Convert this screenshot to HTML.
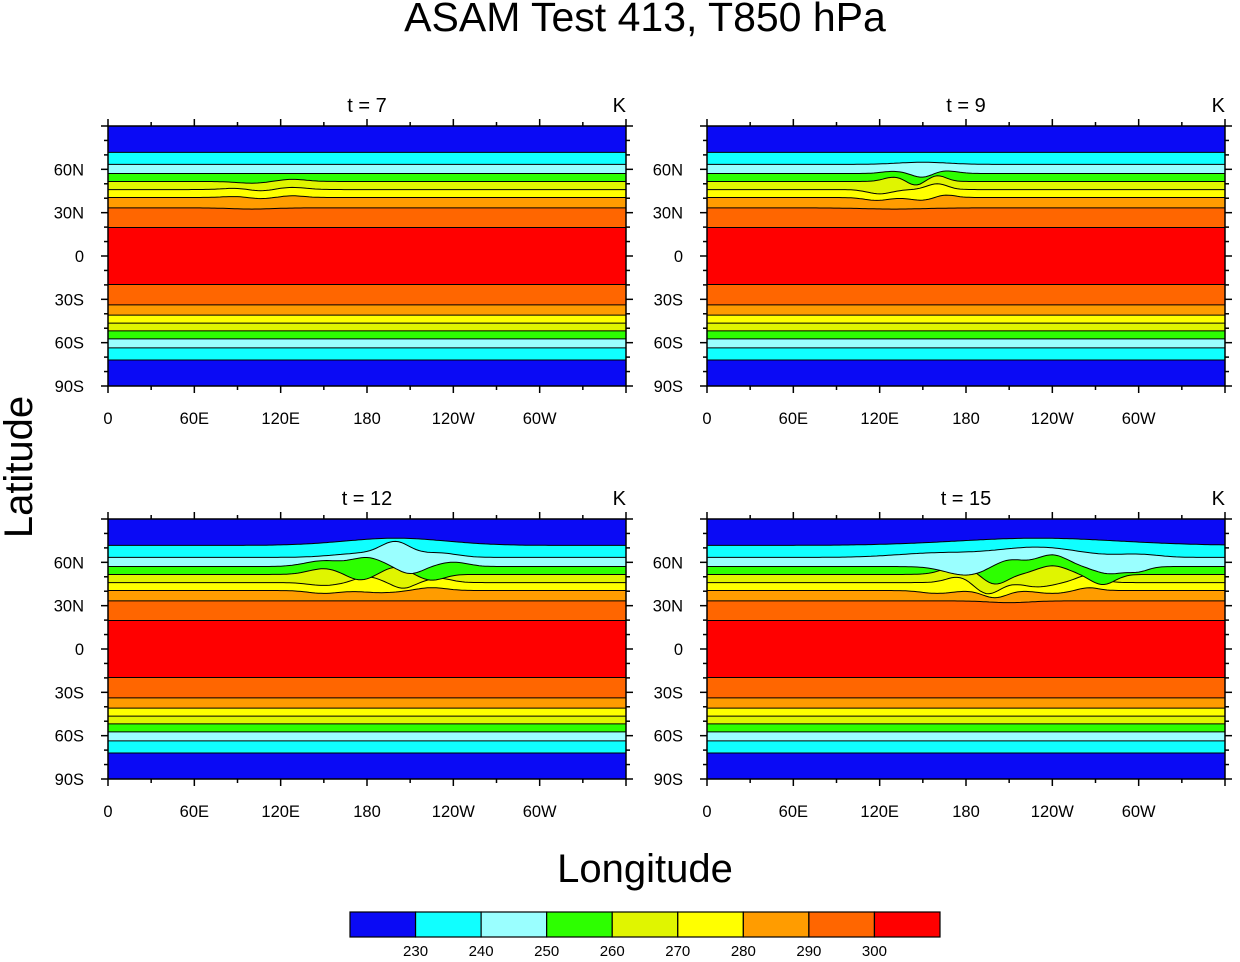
<!DOCTYPE html>
<html><head><meta charset="utf-8"><style>
body{margin:0;background:#fff;}
svg text{font-family:"Liberation Sans",sans-serif;}
</style></head><body>
<svg id="chart" width="1240" height="957" xmlns="http://www.w3.org/2000/svg">
<text x="645" y="31" font-size="41" text-anchor="middle">ASAM Test 413, T850 hPa</text>
<text x="32" y="467" font-size="40" text-anchor="middle" transform="rotate(-90 32 467)">Latitude</text>
<text x="645" y="882" font-size="40" text-anchor="middle">Longitude</text>
</svg>
<script>
const levels=[230,240,250,260,270,280,290,300];
const colors=["#0a0af5","#10ffff","#9affff","#2dff00","#e0f500","#ffff00","#ff9c00","#ff6600","#ff0000"];
const northLat=[71.7,63.4,57.1,51.6,46.0,40.5,33.3,19.7];
const southLat=[-72.0,-63.6,-57.4,-51.8,-46.5,-40.9,-33.8,-19.7];
const panelTitles=["t = 7","t = 9","t = 12","t = 15"];
const lonTicks=["0","60E","120E","180","120W","60W"];
const latTicks=["90S","60S","30S","0","30N","60N"];
// perturbations per panel per level index: [lonCenter, width(deg), amplitude(deg lat)]
const bumps=[
 [[],[],[],[[100,15,-1.2],[128,14,1.5]],[[90,14,1.0],[105,12,-1.2],[128,14,1.5]],[[90,14,0.8],[105,12,-1.0],[128,12,1.2]],[[100,20,-0.8]],[]],
 [[],[[150,25,1.5]],[[130,12,1.5],[150,10,-3],[165,12,2]],[[130,10,3],[145,8,-3],[160,9,4]],[[120,12,-3],[160,10,4]],[[118,12,-2],[150,12,-2],[165,10,2]],[[130,30,-0.8]],[]],
 [[[200,50,5]],[[180,30,3],[200,14,9],[230,18,3]],[[150,18,4],[180,15,6],[210,12,-5],[240,14,3]],[[150,15,4],[175,12,-4],[200,12,5],[225,12,-4]],[[150,15,-2],[180,12,4],[205,10,-4],[230,12,3]],[[150,15,-2],[190,18,-1.5],[225,14,2]],[],[]],
 [[[230,80,5]],[[160,40,3],[230,40,7],[300,20,2]],[[180,20,-6],[210,15,5],[240,15,8],[280,15,-5],[300,10,-3]],[[175,15,6],[200,12,-7],[240,15,6],[275,12,-7]],[[175,12,4],[195,12,-8],[230,14,-3],[265,12,5]],[[160,15,-2],[200,12,-5],[240,15,-2],[265,10,2]],[[210,20,-1.2]],[]]
];
const svg=document.getElementById('chart');
const NS="http://www.w3.org/2000/svg";
const panels=[[108,126],[707,126],[108,519],[707,519]];
const W=518,H=260;
function mk(tag,attrs){const e=document.createElementNS(NS,tag);for(const k in attrs)e.setAttribute(k,attrs[k]);return e;}
panels.forEach((p,pi)=>{
  const [x0,y0]=p;
  const g=mk('g',{});
  
  
  svg.appendChild(g);
  const xs=l=>x0+l/360*W, ys=la=>y0+(90-la)/180*H;
  g.appendChild(mk('rect',{x:x0,y:y0,width:W,height:H,fill:colors[8]}));
  for(let i=southLat.length-1;i>=0;i--){
    const r=mk('rect',{x:x0,y:ys(southLat[i]),width:W,height:y0+H-ys(southLat[i]),fill:colors[i],stroke:'none'});
    g.appendChild(r);
    g.appendChild(mk('line',{x1:x0,x2:x0+W,y1:ys(southLat[i]),y2:ys(southLat[i]),stroke:'#000','stroke-width':1}));
  }
  for(let i=northLat.length-1;i>=0;i--){
    let pts=[];
    for(let lon=0;lon<=360;lon+=2){
      let la=northLat[i];
      bumps[pi][i].forEach(b=>{la+=b[2]*Math.exp(-Math.pow((lon-b[0])/b[1],2));});
      pts.push(xs(lon).toFixed(1)+','+ys(la).toFixed(1));
    }
    const poly=mk('path',{d:'M'+x0+','+y0+' L'+pts.join(' L')+' L'+(x0+W)+','+y0+'Z',fill:colors[i]});
    g.appendChild(poly);
    g.appendChild(mk('path',{d:'M'+pts.join(' L'),fill:'none',stroke:'#000','stroke-width':1}));
  }
  g.appendChild(mk('rect',{x:x0,y:y0,width:W,height:H,fill:'none',stroke:'#000','stroke-width':1.5}));
  for(let lon=0;lon<=360;lon+=30){
    const maj=lon%60==0, L=maj?7:4, x=xs(lon);
    g.appendChild(mk('line',{x1:x,x2:x,y1:y0,y2:y0-L,stroke:'#000','stroke-width':1.5}));
    g.appendChild(mk('line',{x1:x,x2:x,y1:y0+H,y2:y0+H+L,stroke:'#000','stroke-width':1.5}));
  }
  lonTicks.forEach((t,i)=>{const e=mk('text',{x:xs(i*60),y:y0+H+38,'font-size':16.5,'text-anchor':'middle'});e.textContent=t;
    g.appendChild(e);});
  for(let la=-90;la<=90;la+=10){
    const maj=la%30==0, L=maj?7:4, y=ys(la);
    g.appendChild(mk('line',{x1:x0,x2:x0-L,y1:y,y2:y,stroke:'#000','stroke-width':1.5}));
    g.appendChild(mk('line',{x1:x0+W,x2:x0+W+L,y1:y,y2:y,stroke:'#000','stroke-width':1.5}));
  }
  latTicks.forEach((t,i)=>{const e=mk('text',{x:x0-24,y:ys(-90+i*30)+6,'font-size':16.5,'text-anchor':'end'});e.textContent=t;
    g.appendChild(e);});
  const tt=mk('text',{x:x0+259,y:y0-14,'font-size':20,'text-anchor':'middle'});tt.textContent=panelTitles[pi];
  g.appendChild(tt);
  const kk=mk('text',{x:x0+W,y:y0-14,'font-size':20,'text-anchor':'end'});kk.textContent='K';
  g.appendChild(kk);
});
const cb=mk('g',{});svg.appendChild(cb);
const cw=590/9;
colors.forEach((c,i)=>{const r=mk('rect',{x:350+i*cw,y:912,width:cw,height:25,fill:c,stroke:'#000','stroke-width':1.2});
  cb.appendChild(r);});
levels.forEach((l,i)=>{const t=mk('text',{x:350+(i+1)*cw,y:956,'font-size':15,'text-anchor':'middle'});t.textContent=l;
  cb.appendChild(t);});
</script>
</body></html>
